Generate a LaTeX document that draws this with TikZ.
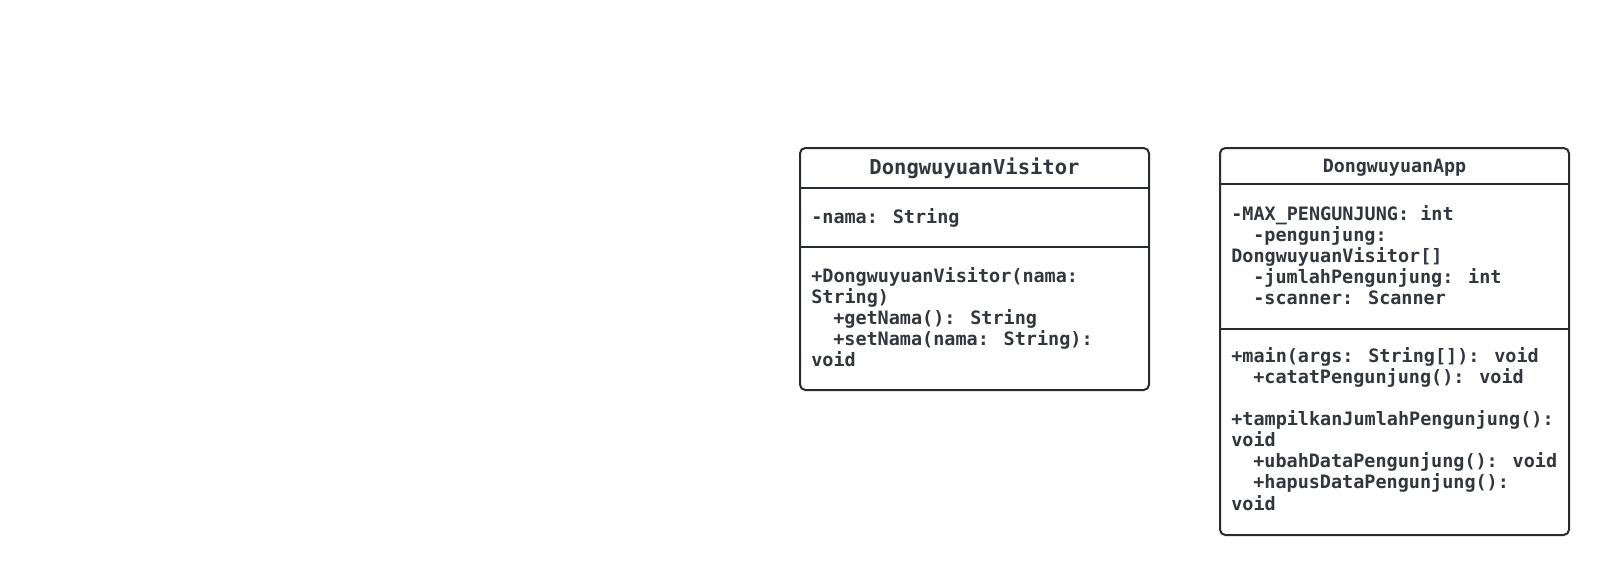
\documentclass[tikz,border=0pt]{standalone}
\usepackage{fontspec}
\newfontfamily\umlfont{DejaVu Sans Mono}
\definecolor{umlline}{HTML}{282B30}
\definecolor{umltext}{HTML}{33363D}
\tikzset{
  classbox/.style={draw=umlline,line width=1.5pt,rounded corners=4pt,fill=white},
  divider/.style={draw=umlline,line width=1.5pt},
  member/.style={anchor=base west,inner sep=0pt,text=umltext,
    font=\umlfont\bfseries\fontsize{13.85pt}{15.75pt}\selectfont},
  classname/.style={anchor=base,inner sep=0pt,text=umltext,
    font=\umlfont\bfseries\fontsize{13.75pt}{15.75pt}\selectfont},
  bigname/.style={classname,font=\umlfont\bfseries\fontsize{15.4pt}{17pt}\selectfont}
}
\begin{document}
\begin{tikzpicture}[x=0.75pt,y=-0.75pt]
                \useasboundingbox (0,0) rectangle (1609,575);
                % DongwuyuanVisitor
                \draw[classbox] (800,148) rectangle (1149,390);
                \draw[divider] (800,188) -- (1149,188);
                \draw[divider] (800,247) -- (1149,247);
                \node[bigname] (visName) at (974.5,174) {DongwuyuanVisitor};
                \node[member] (visAttr) at (811,223) {-nama: String};
                \node[member] (visOpA) at (811,282) {+DongwuyuanVisitor(nama:};
                \node[member] (visOpB) at (811,303) {String)};
                \node[member] (visOpC) at (833,324) {+getNama(): String};
                \node[member] (visOpD) at (833,345) {+setNama(nama: String):};
                \node[member] (visOpE) at (811,366) {void};
                % DongwuyuanApp
                \draw[classbox] (1220,148) rectangle (1569,535);
                \draw[divider] (1220,184) -- (1569,184);
                \draw[divider] (1220,329) -- (1569,329);
                \node[classname] (appName) at (1394.5,172.5) {DongwuyuanApp};
                \node[member] (appAttrA) at (1231,220) {-MAX\_PENGUNJUNG: int};
                \node[member] (appAttrB) at (1253,241) {-pengunjung:};
                \node[member] (appAttrC) at (1231,262) {DongwuyuanVisitor[]};
                \node[member] (appAttrD) at (1253,283) {-jumlahPengunjung: int};
                \node[member] (appAttrE) at (1253,304) {-scanner: Scanner};
                \node[member] (appOpA) at (1231,362) {+main(args: String[]): void};
                \node[member] (appOpB) at (1253,383.2) {+catatPengunjung(): void};
                \node[member] (appOpC) at (1231,425.5) {+tampilkanJumlahPengunjung():};
                \node[member] (appOpD) at (1231,446.6) {void};
                \node[member] (appOpE) at (1253,467.8) {+ubahDataPengunjung(): void};
                \node[member] (appOpF) at (1253,488.9) {+hapusDataPengunjung():};
                \node[member] (appOpG) at (1231,510) {void};
\end{tikzpicture}
\end{document}
